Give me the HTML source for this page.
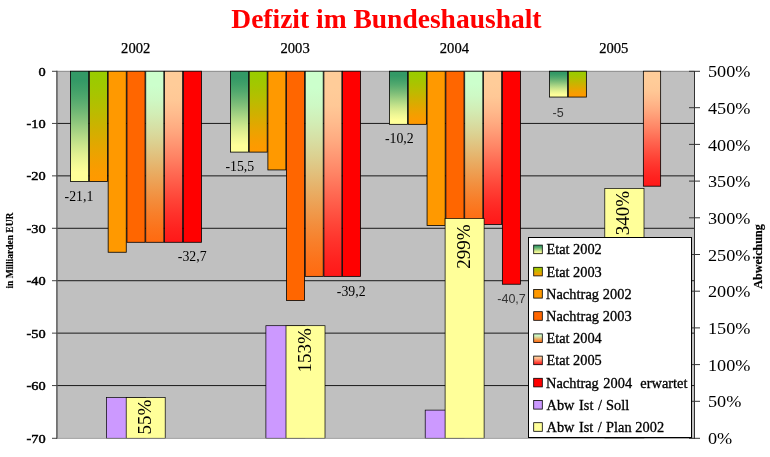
<!DOCTYPE html>
<html lang="de"><head><meta charset="utf-8"><title>Defizit im Bundeshaushalt</title>
<style>
html,body{margin:0;padding:0;background:#fff;}
body{width:770px;height:457px;overflow:hidden;}
svg{display:block;}
text{font-family:"Liberation Serif","DejaVu Serif",serif;fill:#000;}
.sans{font-family:"Liberation Sans","DejaVu Sans",sans-serif;fill:#333;}
.b{font-weight:bold;}
</style></head><body>
<svg width="770" height="457" viewBox="0 0 770 457">
<defs>
<linearGradient id="g02" x1="0" y1="0" x2="0" y2="1"><stop offset="0.000" stop-color="#339966"/><stop offset="0.083" stop-color="#339966"/><stop offset="0.167" stop-color="#41A069"/><stop offset="0.250" stop-color="#52A96E"/><stop offset="0.333" stop-color="#68B373"/><stop offset="0.417" stop-color="#80BF79"/><stop offset="0.500" stop-color="#99CC80"/><stop offset="0.583" stop-color="#B2D986"/><stop offset="0.667" stop-color="#CAE58C"/><stop offset="0.750" stop-color="#E0EF91"/><stop offset="0.833" stop-color="#F1F896"/><stop offset="0.917" stop-color="#FFFF99"/><stop offset="1.000" stop-color="#FFFF99"/></linearGradient>
<linearGradient id="g03" x1="0" y1="0" x2="0" y2="1"><stop offset="0.000" stop-color="#99CC00"/><stop offset="0.083" stop-color="#9CCA00"/><stop offset="0.167" stop-color="#A3C700"/><stop offset="0.250" stop-color="#ACC200"/><stop offset="0.333" stop-color="#B6BE00"/><stop offset="0.417" stop-color="#C1B800"/><stop offset="0.500" stop-color="#CCB200"/><stop offset="0.583" stop-color="#D7AD00"/><stop offset="0.667" stop-color="#E2A700"/><stop offset="0.750" stop-color="#ECA300"/><stop offset="0.833" stop-color="#F59E00"/><stop offset="0.917" stop-color="#FC9B00"/><stop offset="1.000" stop-color="#FF9900"/></linearGradient>
<linearGradient id="g04" x1="0" y1="0" x2="0" y2="1"><stop offset="0.000" stop-color="#CCFFCC"/><stop offset="0.083" stop-color="#CCFFCC"/><stop offset="0.167" stop-color="#CEF8C4"/><stop offset="0.250" stop-color="#D2EDB5"/><stop offset="0.333" stop-color="#D7DFA4"/><stop offset="0.417" stop-color="#DCD090"/><stop offset="0.500" stop-color="#E2BF7B"/><stop offset="0.583" stop-color="#E8AE65"/><stop offset="0.667" stop-color="#EE9D50"/><stop offset="0.750" stop-color="#F38D3C"/><stop offset="0.833" stop-color="#F87F2A"/><stop offset="0.917" stop-color="#FC731B"/><stop offset="1.000" stop-color="#FF6A10"/></linearGradient>
<linearGradient id="g05" x1="0" y1="0" x2="0" y2="1"><stop offset="0.000" stop-color="#FFCC99"/><stop offset="0.083" stop-color="#FFCC99"/><stop offset="0.167" stop-color="#FFC896"/><stop offset="0.250" stop-color="#FFBB8D"/><stop offset="0.333" stop-color="#FFAB81"/><stop offset="0.417" stop-color="#FF9773"/><stop offset="0.500" stop-color="#FF8364"/><stop offset="0.583" stop-color="#FF6D55"/><stop offset="0.667" stop-color="#FF5846"/><stop offset="0.750" stop-color="#FF4437"/><stop offset="0.833" stop-color="#FF322B"/><stop offset="0.917" stop-color="#FF2320"/><stop offset="1.000" stop-color="#FF1818"/></linearGradient>
</defs>
<rect x="0" y="0" width="770" height="457" fill="#fff"/>

<text x="386.4" y="27.7" text-anchor="middle" class="b" font-size="27.5" fill="#FF0000" style="fill:#f00">Defizit im Bundeshaushalt</text>
<rect x="57.0" y="71.0" width="637.5" height="367.7" fill="#C0C0C0"/>
<line x1="57.0" y1="123.43" x2="694.5" y2="123.43" stroke="#111" stroke-width="0.95"/>
<line x1="57.0" y1="175.86" x2="694.5" y2="175.86" stroke="#111" stroke-width="0.95"/>
<line x1="57.0" y1="228.29" x2="694.5" y2="228.29" stroke="#111" stroke-width="0.95"/>
<line x1="57.0" y1="280.71" x2="694.5" y2="280.71" stroke="#111" stroke-width="0.95"/>
<line x1="57.0" y1="333.14" x2="694.5" y2="333.14" stroke="#111" stroke-width="0.95"/>
<line x1="57.0" y1="385.57" x2="694.5" y2="385.57" stroke="#111" stroke-width="0.95"/>
<line x1="57.0" y1="71.3" x2="694.5" y2="71.3" stroke="#8a8a8a" stroke-width="1"/>
<rect x="70.55" y="71.20" width="18.10" height="110.27" fill="url(#g02)" stroke="#000" stroke-width="0.8"/>
<rect x="89.35" y="71.20" width="18.10" height="110.27" fill="url(#g03)" stroke="#000" stroke-width="0.8"/>
<rect x="108.15" y="71.20" width="18.10" height="181.05" fill="#FF9900" stroke="#000" stroke-width="0.8"/>
<rect x="126.95" y="71.20" width="18.10" height="171.09" fill="#FF6600" stroke="#000" stroke-width="0.8"/>
<rect x="145.75" y="71.20" width="18.10" height="171.09" fill="url(#g04)" stroke="#000" stroke-width="0.8"/>
<rect x="164.55" y="71.20" width="18.10" height="171.09" fill="url(#g05)" stroke="#000" stroke-width="0.8"/>
<rect x="183.35" y="71.20" width="18.10" height="171.09" fill="#FF0000" stroke="#000" stroke-width="0.8"/>
<rect x="230.55" y="71.20" width="17.97" height="80.91" fill="url(#g02)" stroke="#000" stroke-width="0.8"/>
<rect x="249.22" y="71.20" width="17.97" height="80.91" fill="url(#g03)" stroke="#000" stroke-width="0.8"/>
<rect x="267.89" y="71.20" width="17.97" height="98.74" fill="#FF9900" stroke="#000" stroke-width="0.8"/>
<rect x="286.56" y="71.20" width="17.97" height="229.29" fill="#FF6600" stroke="#000" stroke-width="0.8"/>
<rect x="305.24" y="71.20" width="17.97" height="205.17" fill="url(#g04)" stroke="#000" stroke-width="0.8"/>
<rect x="323.91" y="71.20" width="17.97" height="205.17" fill="url(#g05)" stroke="#000" stroke-width="0.8"/>
<rect x="342.58" y="71.20" width="17.97" height="205.17" fill="#FF0000" stroke="#000" stroke-width="0.8"/>
<rect x="389.40" y="71.20" width="18.13" height="53.13" fill="url(#g02)" stroke="#000" stroke-width="0.8"/>
<rect x="408.23" y="71.20" width="18.13" height="53.13" fill="url(#g03)" stroke="#000" stroke-width="0.8"/>
<rect x="427.06" y="71.20" width="18.13" height="154.31" fill="#FF9900" stroke="#000" stroke-width="0.8"/>
<rect x="445.89" y="71.20" width="18.13" height="153.27" fill="#FF6600" stroke="#000" stroke-width="0.8"/>
<rect x="464.71" y="71.20" width="18.13" height="153.27" fill="url(#g04)" stroke="#000" stroke-width="0.8"/>
<rect x="483.54" y="71.20" width="18.13" height="153.27" fill="url(#g05)" stroke="#000" stroke-width="0.8"/>
<rect x="502.37" y="71.20" width="18.13" height="213.03" fill="#FF0000" stroke="#000" stroke-width="0.8"/>
<rect x="549.55" y="71.20" width="18.06" height="25.86" fill="url(#g02)" stroke="#000" stroke-width="0.8"/>
<rect x="568.31" y="71.20" width="18.06" height="25.86" fill="url(#g03)" stroke="#000" stroke-width="0.8"/>
<rect x="643.35" y="71.20" width="17.30" height="114.99" fill="url(#g05)" stroke="#000" stroke-width="0.8"/>
<rect x="106.40" y="397.63" width="39.00" height="40.67" fill="#CC99FF" stroke="#000" stroke-width="0.7"/>
<rect x="126.20" y="397.63" width="39.00" height="40.67" fill="#FFFF99" stroke="#000" stroke-width="0.7"/>
<rect x="265.90" y="325.70" width="39.00" height="112.60" fill="#CC99FF" stroke="#000" stroke-width="0.7"/>
<rect x="286.00" y="325.70" width="39.00" height="112.60" fill="#FFFF99" stroke="#000" stroke-width="0.7"/>
<rect x="425.20" y="410.11" width="39.00" height="28.19" fill="#CC99FF" stroke="#000" stroke-width="0.7"/>
<rect x="445.10" y="218.53" width="39.00" height="219.77" fill="#FFFF99" stroke="#000" stroke-width="0.7"/>
<rect x="604.80" y="188.44" width="39.20" height="249.86" fill="#FFFF99" stroke="#000" stroke-width="0.7"/>
<line x1="56.9" y1="70.8" x2="56.9" y2="438.9" stroke="#5a5a5a" stroke-width="1.5"/>
<line x1="57.0" y1="438.4" x2="694.5" y2="438.4" stroke="#999" stroke-width="0.8"/>
<line x1="694.5" y1="71.0" x2="694.5" y2="438.9" stroke="#333" stroke-width="1"/>
<line x1="52" y1="71.3" x2="57" y2="71.3" stroke="#444" stroke-width="1"/>
<text transform="translate(45.7,75.8) scale(1.08,1)" text-anchor="end" font-size="13.3" stroke="#000" stroke-width="0.45">0</text>
<line x1="52" y1="123.43" x2="57" y2="123.43" stroke="#444" stroke-width="1"/>
<text transform="translate(45.7,127.9) scale(1.08,1)" text-anchor="end" font-size="13.3" stroke="#000" stroke-width="0.45">-10</text>
<line x1="52" y1="175.86" x2="57" y2="175.86" stroke="#444" stroke-width="1"/>
<text transform="translate(45.7,180.4) scale(1.08,1)" text-anchor="end" font-size="13.3" stroke="#000" stroke-width="0.45">-20</text>
<line x1="52" y1="228.29" x2="57" y2="228.29" stroke="#444" stroke-width="1"/>
<text transform="translate(45.7,232.8) scale(1.08,1)" text-anchor="end" font-size="13.3" stroke="#000" stroke-width="0.45">-30</text>
<line x1="52" y1="280.71" x2="57" y2="280.71" stroke="#444" stroke-width="1"/>
<text transform="translate(45.7,285.2) scale(1.08,1)" text-anchor="end" font-size="13.3" stroke="#000" stroke-width="0.45">-40</text>
<line x1="52" y1="333.14" x2="57" y2="333.14" stroke="#444" stroke-width="1"/>
<text transform="translate(45.7,337.6) scale(1.08,1)" text-anchor="end" font-size="13.3" stroke="#000" stroke-width="0.45">-50</text>
<line x1="52" y1="385.57" x2="57" y2="385.57" stroke="#444" stroke-width="1"/>
<text transform="translate(45.7,390.1) scale(1.08,1)" text-anchor="end" font-size="13.3" stroke="#000" stroke-width="0.45">-60</text>
<line x1="52" y1="438.3" x2="57" y2="438.3" stroke="#444" stroke-width="1"/>
<text transform="translate(45.7,442.8) scale(1.08,1)" text-anchor="end" font-size="13.3" stroke="#000" stroke-width="0.45">-70</text>
<line x1="689" y1="438.3" x2="700" y2="438.3" stroke="#333" stroke-width="1"/>
<text transform="translate(708,444.4) scale(1.03,1)" font-size="17.7">0%</text>
<line x1="689" y1="401.3" x2="700" y2="401.3" stroke="#333" stroke-width="1"/>
<text transform="translate(708,407.4) scale(1.03,1)" font-size="17.7">50%</text>
<line x1="689" y1="364.6" x2="700" y2="364.6" stroke="#333" stroke-width="1"/>
<text transform="translate(708,370.7) scale(1.03,1)" font-size="17.7">100%</text>
<line x1="689" y1="327.9" x2="700" y2="327.9" stroke="#333" stroke-width="1"/>
<text transform="translate(708,334.0) scale(1.03,1)" font-size="17.7">150%</text>
<line x1="689" y1="291.2" x2="700" y2="291.2" stroke="#333" stroke-width="1"/>
<text transform="translate(708,297.3) scale(1.03,1)" font-size="17.7">200%</text>
<line x1="689" y1="254.5" x2="700" y2="254.5" stroke="#333" stroke-width="1"/>
<text transform="translate(708,260.6) scale(1.03,1)" font-size="17.7">250%</text>
<line x1="689" y1="217.8" x2="700" y2="217.8" stroke="#333" stroke-width="1"/>
<text transform="translate(708,223.9) scale(1.03,1)" font-size="17.7">300%</text>
<line x1="689" y1="181.1" x2="700" y2="181.1" stroke="#333" stroke-width="1"/>
<text transform="translate(708,187.2) scale(1.03,1)" font-size="17.7">350%</text>
<line x1="689" y1="144.4" x2="700" y2="144.4" stroke="#333" stroke-width="1"/>
<text transform="translate(708,150.5) scale(1.03,1)" font-size="17.7">400%</text>
<line x1="689" y1="107.7" x2="700" y2="107.7" stroke="#333" stroke-width="1"/>
<text transform="translate(708,113.8) scale(1.03,1)" font-size="17.7">450%</text>
<line x1="689" y1="71.3" x2="700" y2="71.3" stroke="#333" stroke-width="1"/>
<text transform="translate(708,77.4) scale(1.03,1)" font-size="17.7">500%</text>
<text x="135.7" y="52.7" text-anchor="middle" font-size="14.6" stroke="#000" stroke-width="0.25">2002</text>
<text x="295.1" y="52.7" text-anchor="middle" font-size="14.6" stroke="#000" stroke-width="0.25">2003</text>
<text x="454.4" y="52.7" text-anchor="middle" font-size="14.6" stroke="#000" stroke-width="0.25">2004</text>
<text x="613.8" y="52.7" text-anchor="middle" font-size="14.6" stroke="#000" stroke-width="0.25">2005</text>
<text transform="translate(12.8,250.6) rotate(-90)" text-anchor="middle" class="b" font-size="9.5" stroke="#000" stroke-width="0.15">in Milliarden EUR</text>
<text transform="translate(762,256.5) rotate(-90)" text-anchor="middle" class="b" font-size="12.1" stroke="#000" stroke-width="0.2">Abweichung</text>
<text x="64.6" y="200.5" font-size="13.8">-21,1</text>
<text x="177.8" y="260.8" font-size="13.8">-32,7</text>
<text x="225.4" y="170.5" font-size="13.8">-15,5</text>
<text x="336.8" y="295.6" font-size="13.8">-39,2</text>
<text x="384.9" y="143.0" font-size="13.8">-10,2</text>
<text x="497.3" y="303.2" class="sans" font-size="12.5">-40,7</text>
<text x="552.6" y="116.6" class="sans" font-size="12.5">-5</text>
<text transform="translate(150.6,417.2) rotate(-90)" text-anchor="middle" font-size="19">55%</text>
<text transform="translate(311.1,350.3) rotate(-90)" text-anchor="middle" font-size="19">153%</text>
<text transform="translate(470.1,246.5) rotate(-90)" text-anchor="middle" font-size="19">299%</text>
<text transform="translate(629.3,213) rotate(-90)" text-anchor="middle" font-size="19">340%</text>
<rect x="528.5" y="237.5" width="163" height="200" fill="#fff" stroke="#000" stroke-width="1"/>
<rect x="533.7" y="245.1" width="8.6" height="8.6" fill="url(#g02)" stroke="#000" stroke-width="0.8"/>
<text x="546.4" y="254.4" font-size="14.35" stroke="#000" stroke-width="0.3" letter-spacing="0" xml:space="preserve">Etat 2002</text>
<rect x="533.7" y="267.3" width="8.6" height="8.6" fill="url(#g03)" stroke="#000" stroke-width="0.8"/>
<text x="546.4" y="276.6" font-size="14.35" stroke="#000" stroke-width="0.3" letter-spacing="0" xml:space="preserve">Etat 2003</text>
<rect x="533.7" y="289.5" width="8.6" height="8.6" fill="#FF9900" stroke="#000" stroke-width="0.8"/>
<text x="546.0" y="298.8" font-size="14.35" stroke="#000" stroke-width="0.3" letter-spacing="0.06" xml:space="preserve">Nachtrag 2002</text>
<rect x="533.7" y="311.7" width="8.6" height="8.6" fill="#FF6600" stroke="#000" stroke-width="0.8"/>
<text x="546.0" y="321.0" font-size="14.35" stroke="#000" stroke-width="0.3" letter-spacing="0.06" xml:space="preserve">Nachtrag 2003</text>
<rect x="533.7" y="333.9" width="8.6" height="8.6" fill="url(#g04)" stroke="#000" stroke-width="0.8"/>
<text x="546.4" y="343.2" font-size="14.35" stroke="#000" stroke-width="0.3" letter-spacing="0" xml:space="preserve">Etat 2004</text>
<rect x="533.7" y="356.1" width="8.6" height="8.6" fill="url(#g05)" stroke="#000" stroke-width="0.8"/>
<text x="546.4" y="365.4" font-size="14.35" stroke="#000" stroke-width="0.3" letter-spacing="0" xml:space="preserve">Etat 2005</text>
<rect x="533.7" y="378.3" width="8.6" height="8.6" fill="#FF0000" stroke="#000" stroke-width="0.8"/>
<text x="546.0" y="387.6" font-size="14.35" stroke="#000" stroke-width="0.3" letter-spacing="0.03" xml:space="preserve">Nachtrag <tspan x="603.3">2004  </tspan><tspan x="640.3">erwartet</tspan></text>
<rect x="533.7" y="400.5" width="8.6" height="8.6" fill="#CC99FF" stroke="#000" stroke-width="0.8"/>
<text x="546.0" y="409.8" font-size="14.35" stroke="#000" stroke-width="0.3" letter-spacing="0.02" xml:space="preserve"><tspan x="546.5">Abw </tspan><tspan x="579.0">Ist </tspan><tspan x="597.9">/ </tspan><tspan x="606.0">Soll</tspan></text>
<rect x="533.7" y="422.7" width="8.6" height="8.6" fill="#FFFF99" stroke="#000" stroke-width="0.8"/>
<text x="546.0" y="432.0" font-size="14.35" stroke="#000" stroke-width="0.3" letter-spacing="0.03" xml:space="preserve"><tspan x="546.5">Abw </tspan><tspan x="578.9">Ist </tspan><tspan x="597.7">/ </tspan><tspan x="606.1">Plan 2002</tspan></text>
</svg></body></html>
